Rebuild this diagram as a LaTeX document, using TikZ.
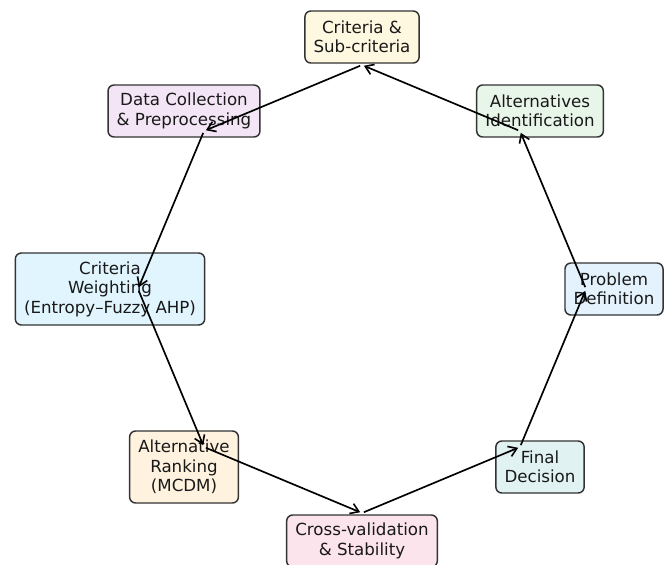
\documentclass[tikz,border=0pt]{standalone}
\usepackage{fontspec}
\setmainfont{DejaVu Sans}
\usetikzlibrary{arrows.meta}
\definecolor{cAmber}{HTML}{FFF8E1}
\definecolor{cPurple}{HTML}{F3E5F5}
\definecolor{cGreen}{HTML}{E8F5E9}
\definecolor{cLBlue}{HTML}{E1F5FE}
\definecolor{cBlue}{HTML}{E3F2FD}
\definecolor{cOrange}{HTML}{FFF3E0}
\definecolor{cTeal}{HTML}{E0F2F1}
\definecolor{cPink}{HTML}{FCE4EC}
\definecolor{cBorder}{HTML}{333333}
\tikzset{
  box/.style={draw=cBorder, line width=1.1pt, rounded corners=4.5pt, align=center,
    inner xsep=6.5pt, inner ysep=0pt, minimum height=39pt,
    font=\fontsize{12.5pt}{14.6pt}\selectfont, text=black!90},
  tallbox/.style={box, minimum height=54pt},
  flow/.style={draw=black, line width=1.25pt, shorten >=1.5pt, shorten <=1.5pt,
    -{Straight Barb[length=6pt,width=8pt,line width=1.2pt]}}
}
\begin{document}
\begin{tikzpicture}[x=0.75pt,y=-0.75pt]
\useasboundingbox (0,0) rectangle (667,564);
% nodes (radius 252 around (362,289))
\node[box, fill=cBlue]   (prob)  at (614,289) {Problem\\Definition};
\node[box, fill=cGreen]  (alt)   at (540,111) {Alternatives\\Identification};
\node[box, fill=cAmber]  (crit)  at (362,37)  {Criteria \&\\Sub-criteria};
\node[box, fill=cPurple] (data)  at (184,111) {Data Collection\\\& Preprocessing};
\node[tallbox, fill=cLBlue]  (wgt)  at (110,289) {Criteria\\Weighting\\(Entropy–Fuzzy AHP)};
\node[tallbox, fill=cOrange] (rank) at (184,467) {Alternative\\Ranking\\(MCDM)};
\node[box, fill=cPink]   (cross) at (362,541) {Cross-validation\\\& Stability};
\node[box, fill=cTeal]   (final) at (540,467) {Final\\Decision};
% arrow anchor points (radius 224)
\coordinate (pprob)  at (586,289);
\coordinate (palt)   at (520,131);
\coordinate (pcrit)  at (362,65);
\coordinate (pdata)  at (204,131);
\coordinate (pwgt)   at (138,289);
\coordinate (prank)  at (204,447);
\coordinate (pcross) at (362,513);
\coordinate (pfinal) at (520,447);
% connectors
\draw[flow] (pprob) -- (palt);
\draw[flow] (palt) -- (pcrit);
\draw[flow] (pcrit) -- (pdata);
\draw[flow] (pdata) -- (pwgt);
\draw[flow] (pwgt) -- (prank);
\draw[flow] (prank) -- (pcross);
\draw[flow] (pcross) -- (pfinal);
\draw[flow] (pfinal) -- (pprob);
\end{tikzpicture}
\end{document}
